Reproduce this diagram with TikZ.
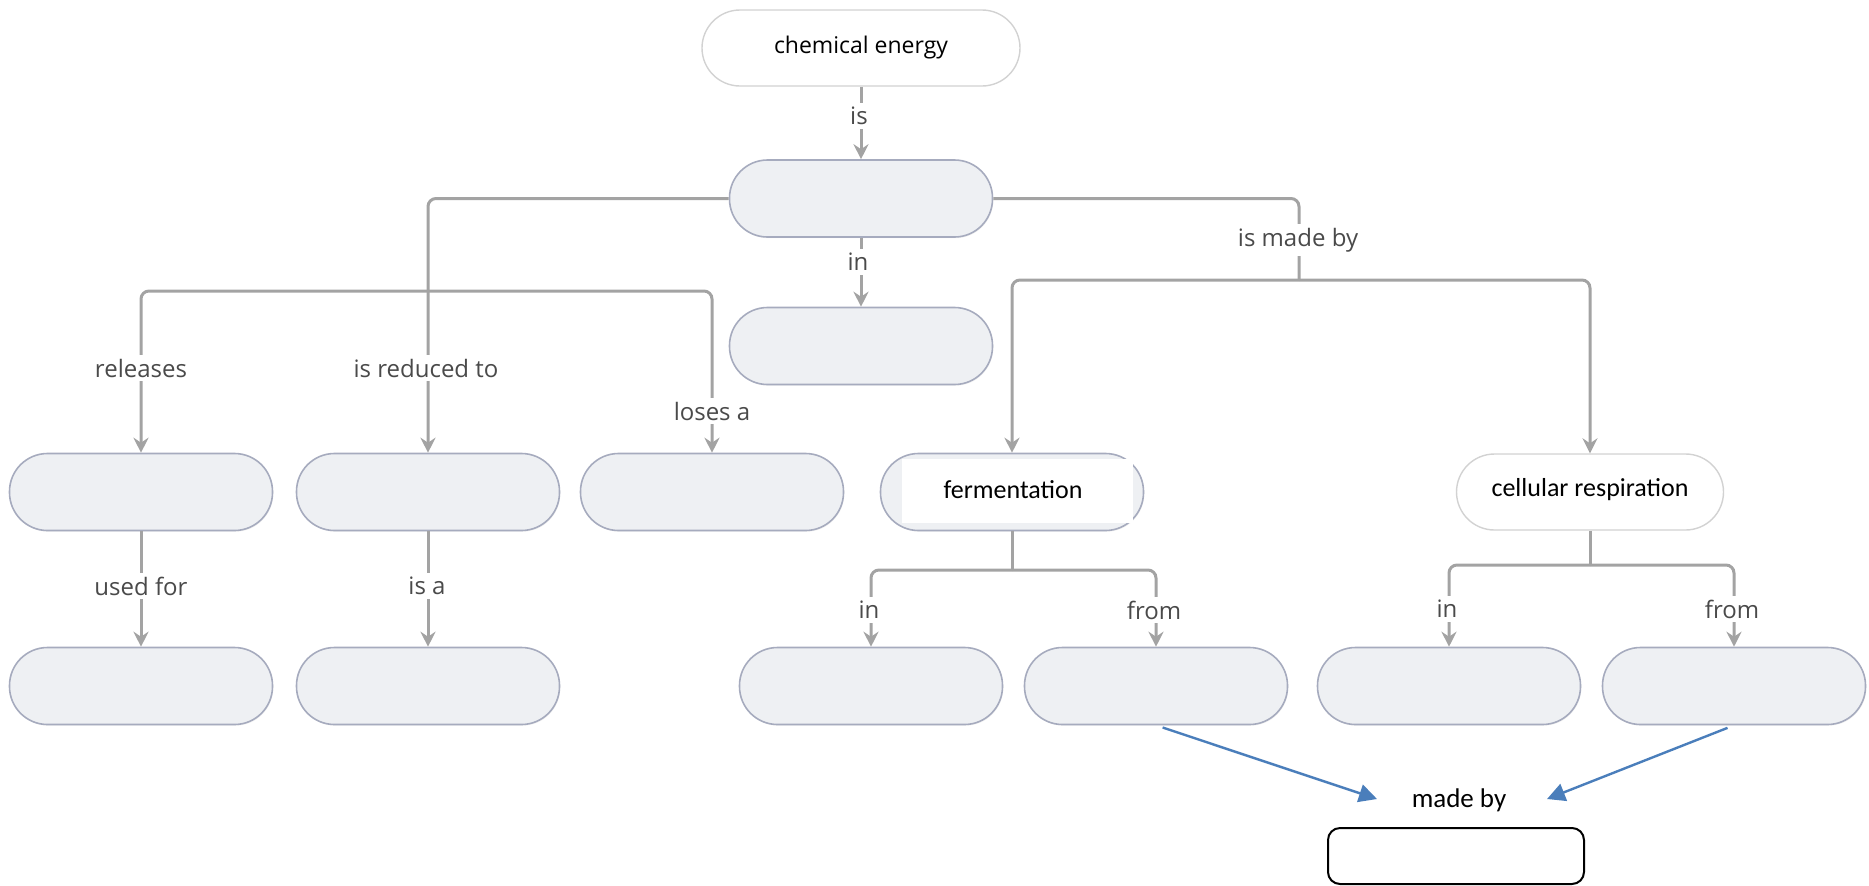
\documentclass[tikz,border=0pt]{standalone}
\usepackage{fontspec}
\setmainfont{Open Sans}
\newfontfamily\calfont{Carlito}
\usetikzlibrary{arrows.meta,shadows}
\definecolor{linegray}{HTML}{A3A3A3}
\definecolor{boxfill}{HTML}{EEF0F3}
\definecolor{boxedge}{HTML}{A6ABBE}
\definecolor{lightedge}{HTML}{D2D2D2}
\definecolor{labelgray}{HTML}{4A4A4A}
\definecolor{bluearr}{HTML}{4A7EBB}
\begin{document}
\begin{tikzpicture}[x=0.5pt,y=-0.5pt,
  box/.style={draw=boxedge, fill=boxfill, line width=0.8pt, rectangle, rounded corners=19pt,
    minimum width=131.5pt, minimum height=38.5pt, inner sep=0pt,
    drop shadow={opacity=0.12, shadow xshift=0.4pt, shadow yshift=-0.6pt}},
  wbox/.style={draw=lightedge, fill=white, line width=0.7pt, rectangle, rounded corners=19pt,
    minimum height=38pt, inner sep=0pt},
  conn/.style={draw=linegray, line width=1.5pt, rounded corners=4pt},
  arr/.style={conn, -{Stealth[length=7.5pt,width=7.5pt,inset=2.5pt]}},
  lbl/.style={fill=white, inner sep=2pt, text=labelgray, font=\fontsize{12}{14}\selectfont},
  caltxt/.style={inner sep=0pt, text=black, font=\calfont\fontsize{13}{15}\selectfont},
  blue/.style={draw=bluearr, line width=1.2pt, -{Triangle[length=9pt,width=9pt]}}
]
\useasboundingbox (0,0) rectangle (1869,885);

% nodes
\node[wbox, minimum width=159pt] (ce) at (861,48) {\fontsize{11.5}{14}\selectfont chemical energy};
\node[box] (A) at (861,198.5) {};
\node[box] (B) at (861,346) {};

\node[box] (rel) at (141,492) {};
\node[box] (red) at (428,492) {};
\node[box] (lose) at (712,492) {};
\node[box] (fer) at (1012,492) {};
\fill[white] (902,459) rectangle (1133,523);
\node[caltxt] (fertxt) at (1013,490) {fermentation};
\node[wbox, minimum width=133.5pt] (cr) at (1590,492) {};
\node[caltxt] (crtxt) at (1590,490) {cellular respiration};

\node[box] (uf) at (141,686) {};
\node[box] (isa) at (428,686) {};
\node[box] (f1) at (871,686) {};
\node[box] (f2) at (1156,686) {};
\node[box] (c1) at (1449,686) {};
\node[box] (c2) at (1734,686) {};

\node[draw=black, line width=1pt, rounded corners=6pt, minimum width=128pt, minimum height=28pt, inner sep=0pt] (bx) at (1456,856) {};

% bus coordinates
\coordinate (lbus) at (428,291);
\coordinate (rbus) at (1299,280);
\coordinate (fbus) at (1012,570);
\coordinate (cbus) at (1590,565);

% connectors
\draw[arr] (ce) -- (A);
\draw[arr] (A) -- (B);
\draw[arr] (A.west) -| (red.north);
\draw[arr] (lbus) -| (rel.north);
\draw[arr] (lbus) -| (lose.north);
\draw[conn] (A.east) -| (rbus);
\draw[arr] (rbus) -| (fer.north);
\draw[arr] (rbus) -| (cr.north);
\draw[arr] (rel) -- (uf);
\draw[arr] (red) -- (isa);
\draw[conn] (fer.south) -- (fbus);
\draw[arr] (fbus) -| (f1.north);
\draw[arr] (fbus) -| (f2.north);
\draw[conn] (cr.south) -- (cbus);
\draw[arr] (cbus) -| (c1.north);
\draw[arr] (cbus) -| (c2.north);

% labels
\node[lbl] (lis) at (859,116) {is};
\node[lbl] (lin) at (858,262) {in};
\node[lbl] (lmade) at (1298,240) {is made by};
\node[lbl] (lrel) at (141,368) {releases};
\node[lbl] (lred) at (426,368) {is reduced to};
\node[lbl] (llose) at (712,411) {loses a};
\node[lbl] (luf) at (141,586) {used for};
\node[lbl] (lisa) at (427,586) {is a};
\node[lbl] (lfin) at (869,610) {in};
\node[lbl] (lffrom) at (1154,610) {from};
\node[lbl] (lcin) at (1447,609) {in};
\node[lbl] (lcfrom) at (1732,609) {from};

% made by
\node[caltxt, font=\calfont\fontsize{13.5}{16}\selectfont] (md) at (1459,800) {made by};
\coordinate (mdL) at (1377,799);
\coordinate (mdR) at (1547,799);
\draw[blue, shorten <=3.5pt] (f2.south) -- (mdL);
\draw[blue, shorten <=3.5pt] (c2.south) -- (mdR);
\end{tikzpicture}
\end{document}
